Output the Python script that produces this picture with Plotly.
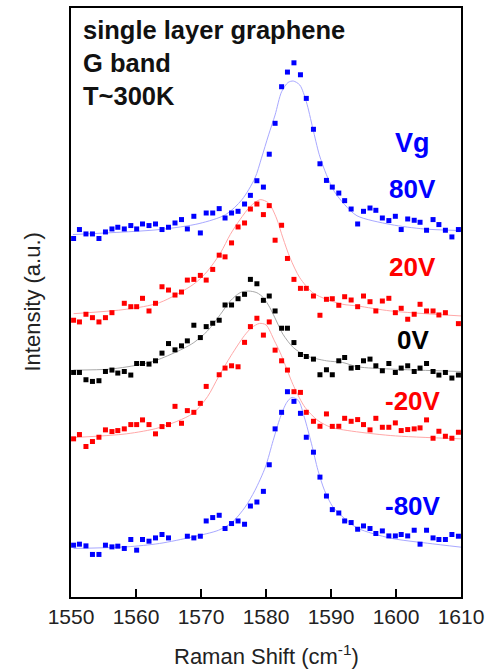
import plotly.graph_objects as go

# Raman shift (cm^-1) of the measured points (shared by all spectra)
raman_shift = [1550.4, 1551.3, 1552.3, 1553.3, 1554.3, 1555.3, 1556.3, 1557.2, 1558.2, 1559.2,
               1560.1, 1561.0, 1562.0, 1563.0, 1564.0, 1565.0, 1566.0, 1567.0, 1567.9, 1568.9,
               1569.9, 1570.8, 1571.8, 1572.8, 1573.7, 1574.7, 1575.7, 1576.7, 1577.6, 1578.6,
               1579.6, 1580.5, 1581.4, 1582.4, 1583.3, 1584.3, 1585.3, 1586.2, 1587.3, 1588.3,
               1589.3, 1590.2, 1591.2, 1592.1, 1593.1, 1594.1, 1595.0, 1596.0, 1596.9, 1597.9,
               1598.9, 1599.9, 1600.8, 1601.8, 1602.8, 1603.7, 1604.7, 1605.7, 1606.6, 1607.6,
               1608.6, 1609.6]

# Offset intensities (a.u.) for each gate voltage
int_p80 = [362.7, 371.7, 367.3, 367.3, 362.7, 369.3, 372.3, 374, 372.3, 375.7,
           372.3, 377.3, 375.7, 377.3, 371.7, 374, 378.3, 381.7, 372.3, 385,
           368.3, 388.3, 388.3, 392.7, 383.3, 388.3, 390, 397.3, 406, 420.7,
           414.3, 447.3, 478.3, 515, 529.7, 539, 527, 503.3, 472.3, 437.7,
           421, 414.3, 408.3, 400.7, 392.3, 377.3, 390, 393.3, 391, 383.3,
           380.7, 385, 371.7, 382.3, 381, 379, 371, 381.7, 376.7, 371,
           364.3, 371.7]
int_p20 = [280.7, 279, 286.7, 283.3, 279, 283.3, 288.3, None, 297.7, 294.3,
           294.3, 302.7, 290, 297.7, 314.3, 311, 306, 309, 321, 321.7,
           325.7, 321, 331.7, 346, 344.3, 358.3, 374.3, 378.3, 392.3, 397.3,
           386.7, 395.7, 361, 376, 342.7, 321.7, 312.7, 312.7, 305, 285.7,
           301.7, 302.3, 295.7, 304.3, 301, 294.3, 305, 299.3, 290, 300,
           302.7, 288.3, 292.7, 281.7, 286.7, 296.7, 290, 290, 286, 288.3,
           None, 277.3]
int_0 = [228.3, 228.3, 221, 219.3, 220, 229.3, 230.7, 227.7, 229.3, 225.7,
         237.3, 237.3, 236.7, 240, 247.7, 257.3, 251, 255, 260, 275.7,
         263.3, 274.3, 277.7, 280.7, 296, 296, 302.3, 306.7, 321.7, 317.3,
         300.7, 305, 290, 272.7, 272.7, 258.3, 246.3, 244.3, 241.7, 226,
         231, 226, 240, 243.3, 232.7, 233.3, 240, 241.7, 235, 230,
         237.3, 228.3, 232.7, 235, 229.3, 232.7, 237.3, 229.3, 225.7, 228.3,
         222.7, 225.7]
int_m20 = [161.7, 166, 154, 159, 163.3, 170.7, 169, 170, 171.7, 176,
           176, 180.7, 176, 166.7, 174, 176, 194.3, 177.3, 190, 188.3,
           197.3, 214.3, None, 226, 232.7, 235, 234, 258.5, 274.3, 282.7,
           265.8, 279, 250.7, 240, 230.7, 209, 208.3, 188.3, 179.3, 174.3,
           186.7, 174.2, 174.3, 182.3, 179.3, 181, 176, 170.7, 182.3, 173.3,
           173.3, 177.7, 170, 171, 171.7, 172.7, 180.7, 162.3, 169.3, 164.3,
           162.3, 168.3]
int_m80 = [55, 56, 54.3, 45.7, 45.7, 55, 53.3, 54, 51.7, 60.7,
           50, 60.7, 59, 62.3, 65.7, 62.3, None, None, 64, 62.3,
           64, 79.3, 82.7, 85, 71.7, 76.7, 79.3, 76, 94.3, 98.3,
           109, 135.7, 171.7, 188.3, 209, 199.3, 187.3, 163.3, 148.3, 123.3,
           104.3, 90.7, 87.3, 79.3, 77.7, 71, 74.3, 71.7, 66.7, 69.3,
           64.3, 64.3, 65.7, 64.3, 70, 56, 70, 62.3, 60.7, 60.7,
           65.7, 64]

# Fitted curves
fit_p80_x = [1550.3, 1563.6, 1569.7, 1573.8, 1576.3, 1578.3, 1579.3, 1580.4, 1581.4, 1582.4, 1583.4, 1584.2,
             1585.2, 1586.2, 1587.2, 1588.2, 1589.3, 1590.5, 1592.1, 1594.0, 1599.2, 1604.3, 1610]
fit_p80_y = [366.7, 371.7, 377.7, 386.7, 401.7, 423.3, 443.3, 466.7, 486.7, 510, 519.3, 520.7,
             516.7, 500, 473.3, 446.7, 426.7, 410, 396.7, 385.5, 376.7, 372.3, 370.7]
fit_p20_x = [1550.4, 1558.5, 1563.6, 1568.9, 1571.0, 1573.0, 1574.5, 1576.0, 1577.6, 1579.1, 1580.4,
             1581.6, 1582.6, 1583.7, 1585.2, 1587.2, 1589.3, 1591.8, 1594.1, 1599.2, 1610]
fit_p20_y = [287.3, 291.7, 298.3, 317, 330, 348.3, 366.7, 381.7, 395, 401.7, 398.3,
             383.3, 363.3, 343.3, 323.3, 308.3, 301.7, 296.7, 295, 290, 285]
fit_0_x = [1550.4, 1556.0, 1561.0, 1563.6, 1567.1, 1568.9, 1571.0, 1573.0, 1574.5, 1576.0, 1577.3, 1578.6,
           1579.6, 1580.6, 1581.6, 1582.6, 1584.2, 1586.2, 1589.3, 1591.8, 1594.1, 1599.2, 1610]
fit_0_y = [230.7, 231.7, 236.7, 241.7, 251.7, 258.3, 270, 286.7, 300, 308.3, 310, 308.3,
           303.3, 293.3, 280, 266.7, 253.3, 245, 240, 238.3, 234, 231.7, 229.3]
fit_m20_x = [1550.4, 1558.5, 1563.6, 1568.7, 1571.0, 1572.7, 1574.6, 1576.7, 1577.8, 1579.0, 1580.0,
             1581.3, 1582.2, 1583.0, 1584.3, 1586.0, 1588.0, 1590.0, 1592.6, 1599.2, 1610]
fit_m20_y = [163, 166.7, 173, 187, 204, 224, 245, 265.5, 273.3, 277.5, 276,
             260, 248, 235, 214, 193.3, 180, 173.3, 170, 165, 161.7]
fit_m80_x = [1550.4, 1558.5, 1563.6, 1568.7, 1572.7, 1574.8, 1576.8, 1578.3, 1579.9, 1581.1, 1582.2, 1583.2,
             1584.0, 1585.0, 1585.9, 1587.0, 1588.0, 1589.0, 1590.3, 1592.1, 1594.1, 1599.2, 1604.8, 1610]
fit_m80_y = [51.7, 53.3, 56.7, 63.3, 70, 78, 93.3, 110, 133.3, 160, 183.3, 198.3,
             203.3, 200, 183.3, 156.7, 130, 110, 93.3, 81.7, 72, 62, 57, 53]

labels = ["80V", "20V", "0V", "-20V", "-80V"]
info_lines = ["single layer graphene", "G band", "T~300K"]

series = [
    (labels[0], int_p80, fit_p80_x, fit_p80_y, "#0000ff", "#a8a8ff", 412),
    (labels[1], int_p20, fit_p20_x, fit_p20_y, "#ff0000", "#ffa8a8", 334),
    (labels[2], int_0, fit_0_x, fit_0_y, "#000000", "#a8a8a8", 261),
    (labels[3], int_m20, fit_m20_x, fit_m20_y, "#ff0000", "#ffa8a8", 200),
    (labels[4], int_m80, fit_m80_x, fit_m80_y, "#0000ff", "#a8a8ff", 94),
]

FONT = "Arial, Liberation Sans, sans-serif"
fig = go.Figure()
annotations = []
for name, ys, fx, fy, col, fcol, ly in series:
    fig.add_trace(go.Scatter(x=fx, y=fy, mode="lines", line=dict(color=fcol, width=1, shape="spline", smoothing=0.8),
                             showlegend=False, hoverinfo="skip"))
    fig.add_trace(go.Scatter(x=raman_shift, y=ys, mode="markers", name=name,
                             marker=dict(symbol="square", size=5, color=col, line=dict(width=0)),
                             showlegend=False))
    annotations.append(dict(x=1602.6, y=ly, xref="x", yref="y", text=f"<b>{name}</b>", showarrow=False,
                            xanchor="center", yanchor="middle", font=dict(family=FONT, size=26, color=col)))

annotations.append(dict(x=1602.6, y=459, xref="x", yref="y", text="<b>Vg</b>", showarrow=False,
                        xanchor="center", yanchor="middle", font=dict(family=FONT, size=27, color="#0000ff")))
for t, yy in zip(info_lines, [572, 539, 505.5]):
    annotations.append(dict(x=1551.6, y=yy, xref="x", yref="y", text=f"<b>{t}</b>", showarrow=False,
                            xanchor="left", yanchor="middle", font=dict(family=FONT, size=25.5, color="#111111")))

annotations.append(dict(x=-0.1, y=0.5, xref="paper", yref="paper", text="Intensity (a.u.)", textangle=-90,
                        showarrow=False, xanchor="center", yanchor="middle",
                        font=dict(family=FONT, size=22, color="#222222")))
annotations.append(dict(x=0.5, y=-0.099, xref="paper", yref="paper", text="Raman Shift (cm<sup>-1</sup>)",
                        showarrow=False, xanchor="center", yanchor="middle",
                        font=dict(family=FONT, size=22, color="#222222")))

fig.update_layout(
    width=490, height=669,
    margin=dict(l=71, r=26, t=6, b=72),
    paper_bgcolor="white", plot_bgcolor="white",
    annotations=annotations,
    xaxis=dict(range=[1550, 1610], tickmode="array", tickvals=[1550, 1560, 1570, 1580, 1590, 1600, 1610],
               ticks="inside", ticklen=8, tickwidth=1.5, tickcolor="black", ticklabelstandoff=0,
               showline=True, linecolor="black", linewidth=2, mirror=True, showgrid=False, zeroline=False,
               tickfont=dict(family=FONT, size=21, color="#222222")),
    yaxis=dict(range=[3, 594], showticklabels=False, ticks="", showline=True, linecolor="black",
               linewidth=2, mirror=True, showgrid=False, zeroline=False),
)
fig.write_html("out.html", config={"displayModeBar": False},
               post_script="document.body.style.margin='0px';")
